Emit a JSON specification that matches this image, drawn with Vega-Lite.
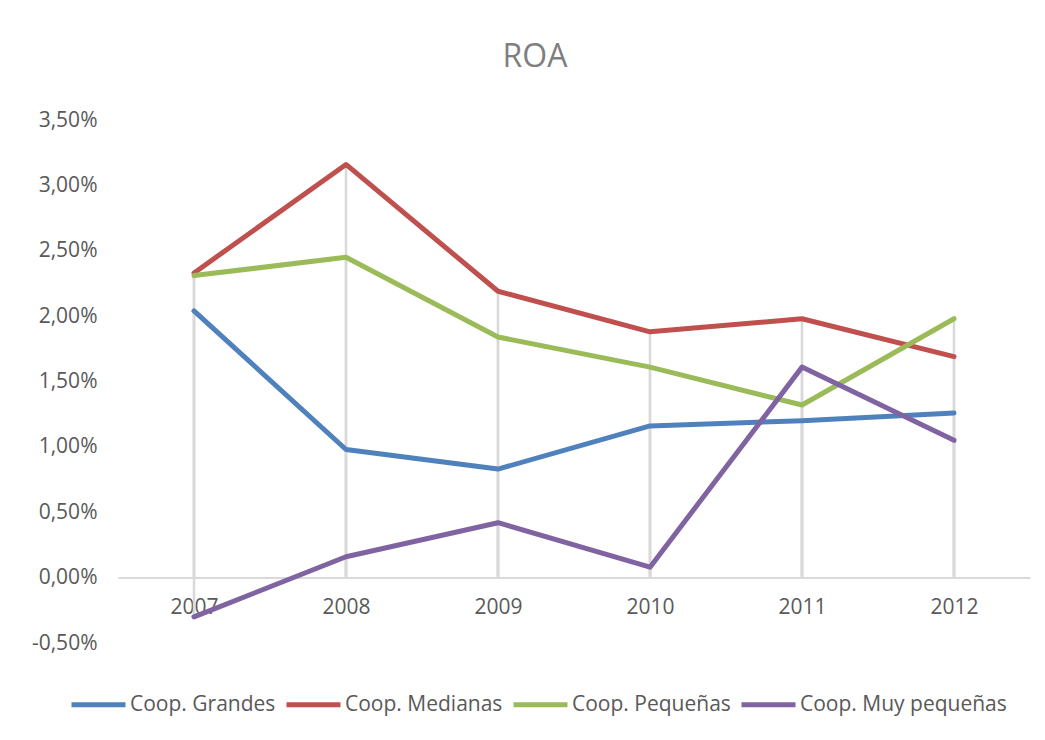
{
  "$schema": "https://vega.github.io/schema/vega-lite/v6.json",
  "width": 912,
  "height": 523,
  "autosize": {"type": "none"},
  "padding": {"left": 118, "top": 120, "right": 15, "bottom": 97},
  "background": "white",
  "title": {
    "text": "ROA",
    "fontSize": 32,
    "font": "Open Sans",
    "fontWeight": "normal",
    "color": "#7f7f7f",
    "anchor": "middle",
    "dx": -39,
    "offset": 35
  },
  "data": {
    "values": [
      {"year": "2007", "serie": "Coop. Grandes", "roa": 0.0204},
      {"year": "2008", "serie": "Coop. Grandes", "roa": 0.0098},
      {"year": "2009", "serie": "Coop. Grandes", "roa": 0.0083},
      {"year": "2010", "serie": "Coop. Grandes", "roa": 0.0116},
      {"year": "2011", "serie": "Coop. Grandes", "roa": 0.0120},
      {"year": "2012", "serie": "Coop. Grandes", "roa": 0.0126},
      {"year": "2007", "serie": "Coop. Medianas", "roa": 0.0233},
      {"year": "2008", "serie": "Coop. Medianas", "roa": 0.0316},
      {"year": "2009", "serie": "Coop. Medianas", "roa": 0.0219},
      {"year": "2010", "serie": "Coop. Medianas", "roa": 0.0188},
      {"year": "2011", "serie": "Coop. Medianas", "roa": 0.0198},
      {"year": "2012", "serie": "Coop. Medianas", "roa": 0.0169},
      {"year": "2007", "serie": "Coop. Pequeñas", "roa": 0.0231},
      {"year": "2008", "serie": "Coop. Pequeñas", "roa": 0.0245},
      {"year": "2009", "serie": "Coop. Pequeñas", "roa": 0.0184},
      {"year": "2010", "serie": "Coop. Pequeñas", "roa": 0.0161},
      {"year": "2011", "serie": "Coop. Pequeñas", "roa": 0.0132},
      {"year": "2012", "serie": "Coop. Pequeñas", "roa": 0.0198},
      {"year": "2007", "serie": "Coop. Muy pequeñas", "roa": -0.0030},
      {"year": "2008", "serie": "Coop. Muy pequeñas", "roa": 0.0016},
      {"year": "2009", "serie": "Coop. Muy pequeñas", "roa": 0.0042},
      {"year": "2010", "serie": "Coop. Muy pequeñas", "roa": 0.0008},
      {"year": "2011", "serie": "Coop. Muy pequeñas", "roa": 0.0161},
      {"year": "2012", "serie": "Coop. Muy pequeñas", "roa": 0.0105}
    ]
  },
  "encoding": {
    "x": {
      "field": "year",
      "type": "ordinal",
      "scale": {"type": "point", "padding": 0.5},
      "axis": {
        "title": null,
        "orient": "bottom",
        "offset": -65.4,
        "labelAngle": 0,
        "ticks": false,
        "domainColor": "#d9d9d9",
        "domainWidth": 2,
        "labelFont": "Open Sans",
        "labelFontSize": 21,
        "labelColor": "#595959",
        "labelPadding": 19,
        "grid": false
      }
    },
    "y": {
      "field": "roa",
      "type": "quantitative",
      "scale": {"domain": [-0.005, 0.035], "nice": false, "zero": false},
      "axis": {
        "title": null,
        "domain": false,
        "ticks": false,
        "grid": false,
        "values": [-0.005, 0, 0.005, 0.01, 0.015, 0.02, 0.025, 0.03, 0.035],
        "labelExpr": "replace(replace(format(datum.value, '.2%'), '.', ','), '−', '-')",
        "labelFont": "Open Sans",
        "labelFontSize": 21,
        "labelColor": "#595959",
        "labelPadding": 21
      }
    }
  },
  "layer": [
    {
      "mark": {"type": "rule", "color": "#d9d9d9", "strokeWidth": 2.5},
      "encoding": {
        "y2": {"datum": 0}
      }
    },
    {
      "mark": {"type": "line", "strokeWidth": 5, "strokeCap": "round", "strokeJoin": "round"},
      "encoding": {
        "color": {
          "field": "serie",
          "type": "nominal",
          "scale": {
            "domain": ["Coop. Grandes", "Coop. Medianas", "Coop. Pequeñas", "Coop. Muy pequeñas"],
            "range": ["#4f81bd", "#c0504d", "#9bbb59", "#8064a2"]
          },
          "legend": {
            "title": null,
            "orient": "none",
            "direction": "horizontal",
            "legendX": -49,
            "legendY": 555,
            "symbolType": "stroke",
            "symbolSize": 2916,
            "symbolStrokeWidth": 5,
            "labelFont": "Open Sans",
            "labelFontSize": 21,
            "labelColor": "#595959",
            "labelOffset": 2,
            "labelLimit": 400,
            "columnPadding": 0
          }
        }
      }
    }
  ],
  "config": {
    "view": {"stroke": null}
  }
}
